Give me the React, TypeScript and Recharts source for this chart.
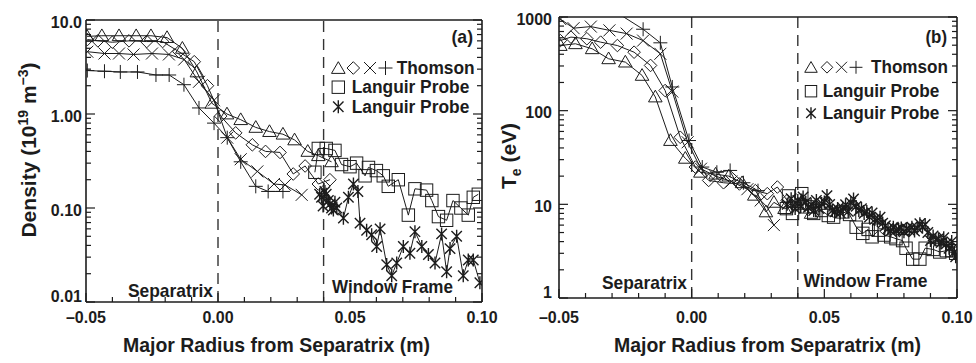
import React from 'react';
import { LineChart, Line, XAxis, YAxis, ReferenceLine } from 'recharts';

const FONT = "'Liberation Sans', Arial, Helvetica, sans-serif";
const INK = '#1c1c1c';

// ---------- axis ticks ----------
const xMajorTicks = [-0.05, 0, 0.05, 0.1];
const xMajorLabels = ['\u20130.05', '0.00', '0.05', '0.10'];
const xAllTicks = [-0.05, -0.04, -0.03, -0.02, -0.01, 0, 0.01, 0.02, 0.03, 0.04, 0.05, 0.06, 0.07, 0.08, 0.09, 0.1];

const nMajorTicks = [0.01, 0.1, 1, 10];
const nMajorLabels = ['0.01', '0.10', '1.00', '10.0'];
const nMinorTicks = [0.02, 0.03, 0.04, 0.05, 0.06, 0.07, 0.08, 0.09, 0.2, 0.3, 0.4, 0.5, 0.6, 0.7, 0.8, 0.9, 2, 3, 4, 5, 6, 7, 8, 9];

const tMajorTicks = [1, 10, 100, 1000];
const tMajorLabels = ['1', '10', '100', '1000'];
const tMinorTicks = [2, 3, 4, 5, 6, 7, 8, 9, 20, 30, 40, 50, 60, 70, 80, 90, 200, 300, 400, 500, 600, 700, 800, 900];

const separatrixX = 0;
const windowFrameX = 0.04;

// ---------- panel (a): density (1e19 m^-3) ----------
const triNx = [-0.0496, -0.044, -0.0375, -0.031, -0.0254, -0.0193, -0.0135, -0.008, -0.0023, 0.0034, 0.0086, 0.0143, 0.0195, 0.0246, 0.029, 0.034, 0.038, 0.043];
const triNv = [6.7, 6.8, 6.8, 6.8, 6.8, 6.5, 5.0, 2.8, 1.3, 1.0, 0.87, 0.72, 0.65, 0.61, 0.53, 0.40, 0.36, 0.31];
const diaNx = [-0.0495, -0.0455, -0.04, -0.0337, -0.027, -0.021, -0.0148, -0.009, -0.004, 0.001, 0.0067, 0.013, 0.018, 0.0235, 0.0285, 0.033, 0.038, 0.0424];
const diaNv = [6.2, 6.0, 5.8, 6.0, 5.9, 5.9, 4.6, 3.6, 2.0, 0.95, 0.63, 0.47, 0.40, 0.39, 0.23, 0.28, 0.18, 0.20];
const crsNx = [-0.0495, -0.043, -0.0375, -0.032, -0.025, -0.0186, -0.0128, -0.0072, -0.0015, 0.0035, 0.0086, 0.0149, 0.0212, 0.0254, 0.0317];
const crsNv = [4.6, 4.4, 4.4, 4.3, 4.4, 4.3, 3.8, 2.2, 1.4, 0.56, 0.33, 0.245, 0.18, 0.176, 0.138];
const plsNx = [-0.0495, -0.043, -0.037, -0.0305, -0.0235, -0.0185, -0.0129, -0.0072, -0.0015, 0.0035, 0.0086, 0.0143, 0.019, 0.0246];
const plsNv = [2.9, 2.85, 2.8, 2.8, 2.6, 2.6, 2.05, 1.16, 0.8, 0.56, 0.31, 0.17, 0.15, 0.15];
const sqNx = [0.0367, 0.038, 0.041, 0.0443, 0.0468, 0.05, 0.0525, 0.0557, 0.057, 0.06, 0.0626, 0.0645, 0.0683, 0.0721, 0.0746, 0.079, 0.081, 0.0835, 0.0866, 0.089, 0.092, 0.0948, 0.0967, 0.0986];
const sqNv = [0.24, 0.43, 0.43, 0.41, 0.29, 0.275, 0.30, 0.22, 0.27, 0.25, 0.22, 0.17, 0.20, 0.084, 0.16, 0.155, 0.12, 0.081, 0.074, 0.12, 0.10, 0.084, 0.13, 0.14];
const astNx = [0.0385, 0.0392, 0.0398, 0.0405, 0.041, 0.0418, 0.0424, 0.043, 0.0437, 0.0443, 0.045, 0.0475, 0.0494, 0.0513, 0.053, 0.0538, 0.0563, 0.0582, 0.0601, 0.0614, 0.0639, 0.0658, 0.0677, 0.0702, 0.0727, 0.0746, 0.0772, 0.0797, 0.0822, 0.0847, 0.0866, 0.0879, 0.0904, 0.0929, 0.0948, 0.0967, 0.0992];
const astNv = [0.14, 0.13, 0.105, 0.15, 0.14, 0.12, 0.11, 0.10, 0.095, 0.115, 0.10, 0.078, 0.13, 0.18, 0.15, 0.069, 0.058, 0.052, 0.039, 0.06, 0.025, 0.019, 0.026, 0.039, 0.033, 0.056, 0.039, 0.032, 0.026, 0.053, 0.021, 0.037, 0.05, 0.019, 0.028, 0.028, 0.016];

// ---------- panel (b): Te (eV) ----------
const triTx = [-0.0495, -0.0438, -0.0375, -0.0313, -0.025, -0.0187, -0.0137, -0.008, -0.0024, 0.0033, 0.009, 0.014, 0.019, 0.0236, 0.028, 0.031, 0.035, 0.04, 0.045];
const triTv = [496, 518, 458, 358, 330, 238, 140, 48, 31, 22, 21, 20, 17, 12.5, 8.3, 10.5, 9, 10, 8];
const diaTx = [-0.0495, -0.0455, -0.0395, -0.0343, -0.028, -0.0217, -0.0155, -0.01, -0.0043, 0.0014, 0.0064, 0.012, 0.018, 0.024, 0.0285, 0.0323, 0.036];
const diaTv = [560, 610, 586, 539, 496, 421, 304, 164, 52, 25, 18, 17, 16.5, 14, 13, 15.3, 11];
const crsTx = [-0.0495, -0.0445, -0.038, -0.031, -0.0245, -0.0183, -0.0118, -0.0073, -0.0015, 0.0035, 0.009, 0.015, 0.021, 0.026, 0.031];
const crsTv = [950, 760, 790, 720, 665, 560, 405, 160, 46, 24, 20, 17.5, 14.5, 11, 6.0];
const plsTx = [-0.0375, -0.031, -0.0183, -0.0118, -0.0073, -0.001, 0.004, 0.0095, 0.0145, 0.0195, 0.025];
const plsTv = [1500, 1250, 740, 530, 179, 48, 25, 22, 23, 17, 14];
const sqTx = [0.0357, 0.0365, 0.038, 0.0415, 0.0435, 0.046, 0.049, 0.0515, 0.0535, 0.057, 0.0595, 0.062, 0.0645, 0.0665, 0.068, 0.0705, 0.0725, 0.075, 0.077, 0.0795, 0.0808, 0.0833, 0.086, 0.088, 0.091, 0.0935, 0.096, 0.098, 0.0995];
const sqTv = [9.0, 12.3, 8.0, 13.0, 9.4, 8.0, 8.6, 7.6, 7.3, 8.3, 7.8, 5.7, 4.9, 5.4, 4.5, 5.3, 4.7, 4.5, 4.3, 4.1, 3.4, 2.6, 2.6, 3.4, 3.3, 3.1, 3.2, 3.2, 3.0];
const astTx = [0.036, 0.0375, 0.039, 0.04, 0.041, 0.042, 0.043, 0.044, 0.045, 0.046, 0.047, 0.048, 0.049, 0.05, 0.051, 0.052, 0.053, 0.054, 0.055, 0.056, 0.057, 0.058, 0.059, 0.06, 0.061, 0.062, 0.063, 0.064, 0.065, 0.066, 0.067, 0.068, 0.069, 0.07, 0.071, 0.072, 0.073, 0.074, 0.075, 0.076, 0.077, 0.078, 0.079, 0.08, 0.081, 0.082, 0.083, 0.084, 0.085, 0.086, 0.087, 0.088, 0.089, 0.09, 0.091, 0.092, 0.093, 0.094, 0.095, 0.096, 0.097, 0.098, 0.099, 0.0995];
const astTv = [10, 11.5, 9, 11, 9.5, 12, 10.5, 9.3, 10, 8.6, 11, 9, 10.2, 10.6, 12.4, 10, 8.6, 8.3, 9, 8.1, 9.1, 9.9, 8.4, 10.4, 11.4, 9.5, 8.6, 9, 8, 8.4, 7.3, 8.1, 6.9, 6.7, 7.3, 6.3, 5.9, 5.5, 5.2, 5.7, 5.3, 5.4, 5.6, 5.1, 5.5, 5.3, 5.7, 5.2, 5.6, 6.2, 5.7, 6.1, 5.0, 4.1, 4.6, 4.2, 4.3, 3.9, 4.4, 3.8, 3.4, 4.0, 3.1, 2.75];

const zip = (xs: number[], vs: number[]) => xs.map((x, i) => ({ x, v: vs[i] }));

// ---------- markers ----------
type Kind = 'tri' | 'dia' | 'crs' | 'pls' | 'sq' | 'ast';
function Marker({ kind, cx, cy, s = 1 }: { kind: Kind; cx: number; cy: number; s?: number }) {
  const st = { stroke: INK, strokeWidth: 1, fill: 'none' };
  if (kind === 'tri') {
    const r = 6.8 * s;
    return <polygon points={`${cx},${cy - r} ${cx - r},${cy + r * 0.72} ${cx + r},${cy + r * 0.72}`} {...st} />;
  }
  if (kind === 'dia') {
    const r = 6.3 * s;
    return <polygon points={`${cx},${cy - r} ${cx + r},${cy} ${cx},${cy + r} ${cx - r},${cy}`} {...st} />;
  }
  if (kind === 'crs') {
    const r = 6 * s;
    return <path d={`M${cx - r},${cy - r}L${cx + r},${cy + r}M${cx - r},${cy + r}L${cx + r},${cy - r}`} {...st} />;
  }
  if (kind === 'pls') {
    const r = 7 * s;
    return <path d={`M${cx - r},${cy}L${cx + r},${cy}M${cx},${cy - r}L${cx},${cy + r}`} {...st} />;
  }
  if (kind === 'sq') {
    const r = 6.2 * s;
    return <rect x={cx - r} y={cy - r} width={2 * r} height={2 * r} {...st} />;
  }
  const r = 6.5 * s;
  const d = r * 0.8;
  return <path d={`M${cx},${cy - r}L${cx},${cy + r}M${cx - d},${cy - d}L${cx + d},${cy + d}M${cx - d},${cy + d}L${cx + d},${cy - d}`} stroke={INK} strokeWidth={1.4} fill="none" />;
}

const dotOf = (kind: Kind) => (p: any) => {
  if (p == null || p.cx == null || p.cy == null || isNaN(p.cx) || isNaN(p.cy)) return <g key={`e${p?.index}`} />;
  return <Marker key={`${kind}${p.index}`} kind={kind} cx={p.cx} cy={p.cy} />;
};

const same = (a: number, b: number) => Math.abs(a - b) <= 1e-7 * Math.max(1e-3, Math.abs(b));

// ---------- tick renderers ----------
const bottomTick = (labelDy: number) => (p: any) => {
  const { x, y, payload } = p;
  const idx = xMajorTicks.findIndex((t) => Math.abs(t - payload.value) < 1e-9);
  const major = idx >= 0;
  return (
    <g>
      <line x1={x} x2={x} y1={y} y2={y - (major ? 9 : 5)} stroke={INK} strokeWidth={1.2} />
      {major && (
        <text x={x} y={y + labelDy} textAnchor="middle" fontFamily={FONT} fontWeight="bold" fontSize={16} fill={INK}>
          {xMajorLabels[idx]}
        </text>
      )}
    </g>
  );
};

const topTick = (p: any) => {
  const { x, y, payload } = p;
  const major = xMajorTicks.some((t) => Math.abs(t - payload.value) < 1e-9);
  return <line x1={x} x2={x} y1={y} y2={y + (major ? 9 : 5)} stroke={INK} strokeWidth={1.2} />;
};

const leftTick = (majors: number[], labels: string[], gap: number, top: number, bottom: number) => (p: any) => {
  const { x, y, payload } = p;
  const idx = majors.findIndex((t) => same(t, payload.value));
  const major = idx >= 0;
  const cy = Math.min(Math.max(y + 1.5, top + 2), bottom - 6.5);
  return (
    <g>
      <line x1={x} x2={x + (major ? 9 : 5)} y1={y} y2={y} stroke={INK} strokeWidth={1.2} />
      {major && (
        <text x={x - gap} y={cy + 6} textAnchor="end" fontFamily={FONT} fontWeight="bold" fontSize={16} fill={INK}>
          {labels[idx]}
        </text>
      )}
    </g>
  );
};

const rightTick = (majors: number[]) => (p: any) => {
  const { x, y, payload } = p;
  const major = majors.some((t) => same(t, payload.value));
  return <line x1={x} x2={x - (major ? 9 : 5)} y1={y} y2={y} stroke={INK} strokeWidth={1.2} />;
};

const axisLine = { stroke: INK, strokeWidth: 1.6 };

const nTicks = [...nMajorTicks, ...nMinorTicks].sort((a, b) => a - b);
const tTicks = [...tMajorTicks, ...tMinorTicks].sort((a, b) => a - b);

type SeriesDef = { kind: Kind; data: { x: number; v: number }[] };

const seriesA: SeriesDef[] = [
  { kind: 'tri', data: zip(triNx, triNv) },
  { kind: 'dia', data: zip(diaNx, diaNv) },
  { kind: 'crs', data: zip(crsNx, crsNv) },
  { kind: 'pls', data: zip(plsNx, plsNv) },
  { kind: 'sq', data: zip(sqNx, sqNv) },
  { kind: 'ast', data: zip(astNx, astNv) },
];
const seriesB: SeriesDef[] = [
  { kind: 'tri', data: zip(triTx, triTv) },
  { kind: 'dia', data: zip(diaTx, diaTv) },
  { kind: 'crs', data: zip(crsTx, crsTv) },
  { kind: 'pls', data: zip(plsTx, plsTv) },
  { kind: 'sq', data: zip(sqTx, sqTv) },
  { kind: 'ast', data: zip(astTx, astTv) },
];

function Panel(props: {
  left: number; width: number; marginRight: number; yAxisW: number; rightW: number; topH: number; bottomH: number;
  yDomain: [number, number]; yTicks: number[]; yMajors: number[]; yLabels: string[]; labelGap: number; xLabelDy: number;
  series: SeriesDef[];
}) {
  const { left, width, marginRight, yAxisW, rightW, topH, bottomH, yDomain, yTicks, yMajors, yLabels, labelGap, xLabelDy, series } = props;
  const H = 363;
  return (
    <div style={{ position: 'absolute', left, top: 0 }}>
      <LineChart width={width} height={H} margin={{ top: 0, right: marginRight, bottom: 0, left: 0 }}>
        <XAxis dataKey="x" type="number" domain={[-0.05, 0.1]} ticks={xAllTicks} interval={0} height={bottomH}
          tickSize={0} tickMargin={0} tickLine={false} axisLine={axisLine} tick={bottomTick(xLabelDy)} allowDataOverflow />
        <XAxis xAxisId="top" orientation="top" type="number" domain={[-0.05, 0.1]} ticks={xAllTicks} interval={0} height={topH}
          tickSize={0} tickMargin={0} tickLine={false} axisLine={axisLine} tick={topTick} allowDataOverflow />
        <YAxis type="number" scale="log" domain={yDomain} ticks={yTicks} interval={0} width={yAxisW}
          tickSize={0} tickMargin={0} tickLine={false} axisLine={axisLine}
          tick={leftTick(yMajors, yLabels, labelGap, topH, H - bottomH)} allowDataOverflow />
        <YAxis yAxisId="r" orientation="right" type="number" scale="log" domain={yDomain} ticks={yTicks} interval={0} width={rightW}
          tickSize={0} tickMargin={0} tickLine={false} axisLine={axisLine} tick={rightTick(yMajors)} allowDataOverflow />
        <ReferenceLine x={separatrixX} stroke="#333" strokeWidth={1.4} strokeDasharray="11 7" />
        <ReferenceLine x={windowFrameX} stroke="#333" strokeWidth={1.4} strokeDasharray="11 7" />
        {series.map((s, i) => (
          <Line key={i} data={s.data} dataKey="v" type="linear" stroke={INK} strokeWidth={1}
            dot={dotOf(s.kind)} activeDot={false} isAnimationActive={false} />
        ))}
      </LineChart>
    </div>
  );
}

function T(props: { x: number; y: number; w?: number; size: number; anchor?: 'start' | 'middle' | 'end'; children: React.ReactNode }) {
  const { x, y, w, size, anchor = 'start', children } = props;
  return (
    <text x={x} y={y} textAnchor={anchor} fontFamily={FONT} fontWeight="bold" fontSize={size} fill={INK}
      {...(w ? { textLength: w, lengthAdjust: 'spacingAndGlyphs' } : {})}>
      {children}
    </text>
  );
}

function LegendBlock(props: { x: number; y1: number; y2: number; y3: number; s: number; mx: number[]; textX: number; wT: number; wL: number }) {
  const { x, y1, y2, y3, s, mx, textX, wT, wL } = props;
  return (
    <g>
      <Marker kind="tri" cx={mx[0]} cy={y1 - 5.5} s={s} />
      <Marker kind="dia" cx={mx[1]} cy={y1 - 6} s={s} />
      <Marker kind="crs" cx={mx[2]} cy={y1 - 6} s={s} />
      <Marker kind="pls" cx={mx[3]} cy={y1 - 6} s={s} />
      <T x={textX} y={y1} w={wT} size={18}>Thomson</T>
      <Marker kind="sq" cx={mx[0]} cy={y2 - 5.5} s={s} />
      <T x={x} y={y2} w={wL} size={18}>Languir Probe</T>
      <Marker kind="ast" cx={mx[0]} cy={y3 - 6} s={s} />
      <T x={x} y={y3} w={wL} size={18}>Languir Probe</T>
    </g>
  );
}

export default function App() {
  return (
    <div style={{ position: 'absolute', left: 0, top: 0, width: 976, height: 363, background: '#fff' }}>
      <Panel left={0} width={520} marginRight={30} yAxisW={86} rightW={8} topH={20} bottomH={61}
        yDomain={[0.01, 10]} yTicks={nTicks} yMajors={nMajorTicks} yLabels={nMajorLabels} labelGap={4} xLabelDy={21}
        series={seriesA} />
      <Panel left={490} width={486} marginRight={0} yAxisW={69} rightW={19} topH={17} bottomH={65}
        yDomain={[1, 1000]} yTicks={tTicks} yMajors={tMajorTicks} yLabels={tMajorLabels} labelGap={7} xLabelDy={25}
        series={seriesB} />
      <svg width={976} height={363} style={{ position: 'absolute', left: 0, top: 0, pointerEvents: 'none' }}>
        {/* axis titles */}
        <T x={123} y={351.5} w={307} size={21}>Major Radius from Separatrix (m)</T>
        <T x={614} y={351.5} w={307} size={21}>Major Radius from Separatrix (m)</T>
        <text transform="translate(36,150) rotate(-90)" textAnchor="middle" fontFamily={FONT} fontWeight="bold" fontSize={21} fill={INK}>
          Density (10<tspan dy={-8} fontSize={14}>19</tspan><tspan dy={8}> m</tspan><tspan dy={-8} fontSize={14}>{'\u22123'}</tspan><tspan dy={8}>)</tspan>
        </text>
        <text transform="translate(516,156) rotate(-90)" textAnchor="middle" fontFamily={FONT} fontWeight="bold" fontSize={21} fill={INK}>
          T<tspan dy={5} fontSize={14}>e</tspan><tspan dy={-5}> (eV)</tspan>
        </text>
        {/* annotations */}
        <T x={213} y={296.5} w={85} size={19} anchor="end">Separatrix</T>
        <T x={332} y={293} w={121} size={19}>Window Frame</T>
        <T x={687} y={289} w={85} size={19} anchor="end">Separatrix</T>
        <T x={803.5} y={286.5} w={124} size={19}>Window Frame</T>
        <T x={473} y={43} w={21.5} size={19} anchor="end">(a)</T>
        <T x={947} y={43} w={21.5} size={19} anchor="end">(b)</T>
        <LegendBlock x={351.7} y1={74} y2={92.7} y3={112.7} s={1} mx={[338.3, 353.3, 370, 385.5]} textX={396.7} wT={78} wL={117.6} />
        <LegendBlock x={822.7} y1={73.3} y2={96.7} y3={119.3} s={0.92} mx={[811, 827, 841.5, 856]} textX={871} wT={77} wL={116.6} />
      </svg>
    </div>
  );
}
